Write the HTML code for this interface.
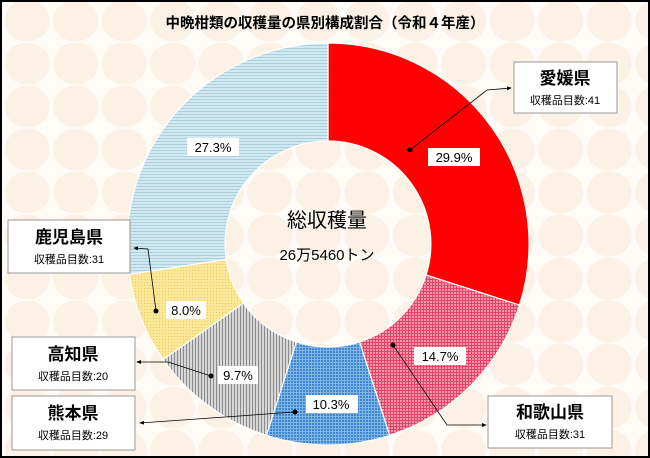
<!DOCTYPE html>
<html><head><meta charset="utf-8"><style>
html,body{margin:0;padding:0;background:#fff}
svg{display:block}
text{font-family:"Liberation Sans","Noto Sans CJK JP",sans-serif}
</style></head><body>
<svg width="650" height="458" viewBox="0 0 650 458" xmlns="http://www.w3.org/2000/svg">
<defs>
<pattern id="bg" x="3" y="-1" width="48.5" height="43" patternUnits="userSpaceOnUse">
<rect width="48.5" height="43" fill="#fffbf7"/>
<ellipse cx="24.25" cy="21.5" rx="22.5" ry="21" fill="#fcf1e5"/>
</pattern>
<pattern id="ph" width="4" height="3" patternUnits="userSpaceOnUse">
<rect width="4" height="3" fill="#d3e8f0"/><rect width="4" height="1" fill="#a9d0df"/>
</pattern>
<pattern id="pk" width="3" height="3" patternUnits="userSpaceOnUse">
<rect width="3" height="3" fill="#f596a8"/><rect width="3" height="1" fill="#e04468"/><rect width="1" height="3" fill="#e04468"/>
</pattern>
<pattern id="pb" width="3" height="3" patternUnits="userSpaceOnUse">
<rect width="3" height="3" fill="#7fb6e6"/><rect width="2" height="2" fill="#3d86cf"/>
</pattern>
<pattern id="pg" width="3" height="3" patternUnits="userSpaceOnUse">
<rect width="3" height="3" fill="#d8d8d8"/><rect width="1" height="3" fill="#8a8a8a"/>
</pattern>
<pattern id="py" width="3" height="3" patternUnits="userSpaceOnUse">
<rect width="3" height="3" fill="#fbe79a"/><rect width="1" height="1" fill="#f0cc50"/>
</pattern>
<marker id="ar" markerWidth="6" markerHeight="6" refX="5" refY="3" orient="auto"><path d="M0,0.5 L6,3 L0,5.5z" fill="#000"/></marker>
</defs>
<rect width="650" height="458" fill="url(#bg)"/>
<g stroke="#fff" stroke-width="1.2">
<path d="M328.00,43.00 A201,201 0 0,1 519.50,305.10 L426.10,275.00 A103,103 0 0,0 328.00,141.00Z" fill="#ff0000"/>
<path d="M519.50,305.10 A201,201 0 0,1 389.60,435.30 L359.60,342.00 A103,103 0 0,0 426.10,275.00Z" fill="url(#pk)"/>
<path d="M389.60,435.30 A201,201 0 0,1 266.40,435.30 L296.40,342.00 A103,103 0 0,0 359.60,342.00Z" fill="url(#pb)"/>
<path d="M266.40,435.30 A201,201 0 0,1 163.00,359.50 L243.40,303.10 A103,103 0 0,0 296.40,342.00Z" fill="url(#pg)"/>
<path d="M163.00,359.50 A201,201 0 0,1 129.30,274.30 L226.20,259.40 A103,103 0 0,0 243.40,303.10Z" fill="url(#py)"/>
<path d="M129.30,274.30 A201,201 0 0,1 328.00,43.00 L328.00,141.00 A103,103 0 0,0 226.20,259.40Z" fill="url(#ph)"/>
</g>
<rect x="1" y="1" width="648" height="456" fill="none" stroke="#000" stroke-width="2"/>
<text x="325" y="28" text-anchor="middle" font-size="14.5" font-weight="bold">中晩柑類の収穫量の県別構成割合（令和４年産）</text>
<text x="327" y="227" text-anchor="middle" font-size="20">総収穫量</text>
<text x="327" y="260" text-anchor="middle" font-size="15">26万5460トン</text>
<g font-size="13" text-anchor="middle">
<rect x="187" y="138" width="52" height="18" fill="#fff"/><text x="213" y="152">27.3%</text>
<rect x="428" y="148" width="52" height="18" fill="#fff"/><text x="454" y="162">29.9%</text>
<rect x="414" y="347" width="52" height="18" fill="#fff"/><text x="440" y="361">14.7%</text>
<rect x="306" y="395" width="52" height="18" fill="#fff"/><text x="331" y="409">10.3%</text>
<rect x="218" y="366" width="40" height="18" fill="#fff"/><text x="238" y="380">9.7%</text>
<rect x="166" y="301" width="40" height="18" fill="#fff"/><text x="186" y="315">8.0%</text>
</g>
<g stroke="#000" stroke-width="0.8" fill="none">
<polyline points="410,150 487,90 511,88" marker-end="url(#ar)"/>
<polyline points="393,345 447,425 486,425" marker-end="url(#ar)"/>
<polyline points="295,412 140,423" marker-end="url(#ar)"/>
<polyline points="211,376 168,362 137,362" marker-end="url(#ar)"/>
<polyline points="156,311 148,249 134,248" marker-end="url(#ar)"/>
</g>
<g fill="#000"><circle cx="410" cy="150" r="2.5"/><circle cx="393" cy="345" r="2.5"/><circle cx="295" cy="412" r="2.5"/><circle cx="211" cy="376" r="2.5"/><circle cx="156" cy="311" r="2.5"/></g>
<g fill="#fff" stroke="#999" stroke-width="1">
<rect x="514" y="62" width="103" height="51"/>
<rect x="488" y="396" width="124" height="52"/>
<rect x="8" y="220" width="122" height="53"/>
<rect x="12" y="337" width="123" height="53"/>
<rect x="12" y="396" width="123" height="54"/>
</g>
<g text-anchor="middle">
<text x="565" y="84" font-size="17" font-weight="bold">愛媛県</text><text x="565" y="104" font-size="11">収穫品目数:41</text>
<text x="550" y="418" font-size="17" font-weight="bold">和歌山県</text><text x="550" y="438" font-size="11">収穫品目数:31</text>
<text x="69" y="243" font-size="17" font-weight="bold">鹿児島県</text><text x="69" y="263" font-size="11">収穫品目数:31</text>
<text x="73" y="360" font-size="17" font-weight="bold">高知県</text><text x="73" y="380" font-size="11">収穫品目数:20</text>
<text x="73" y="419" font-size="17" font-weight="bold">熊本県</text><text x="73" y="439" font-size="11">収穫品目数:29</text>
</g>
</svg>
</body></html>
